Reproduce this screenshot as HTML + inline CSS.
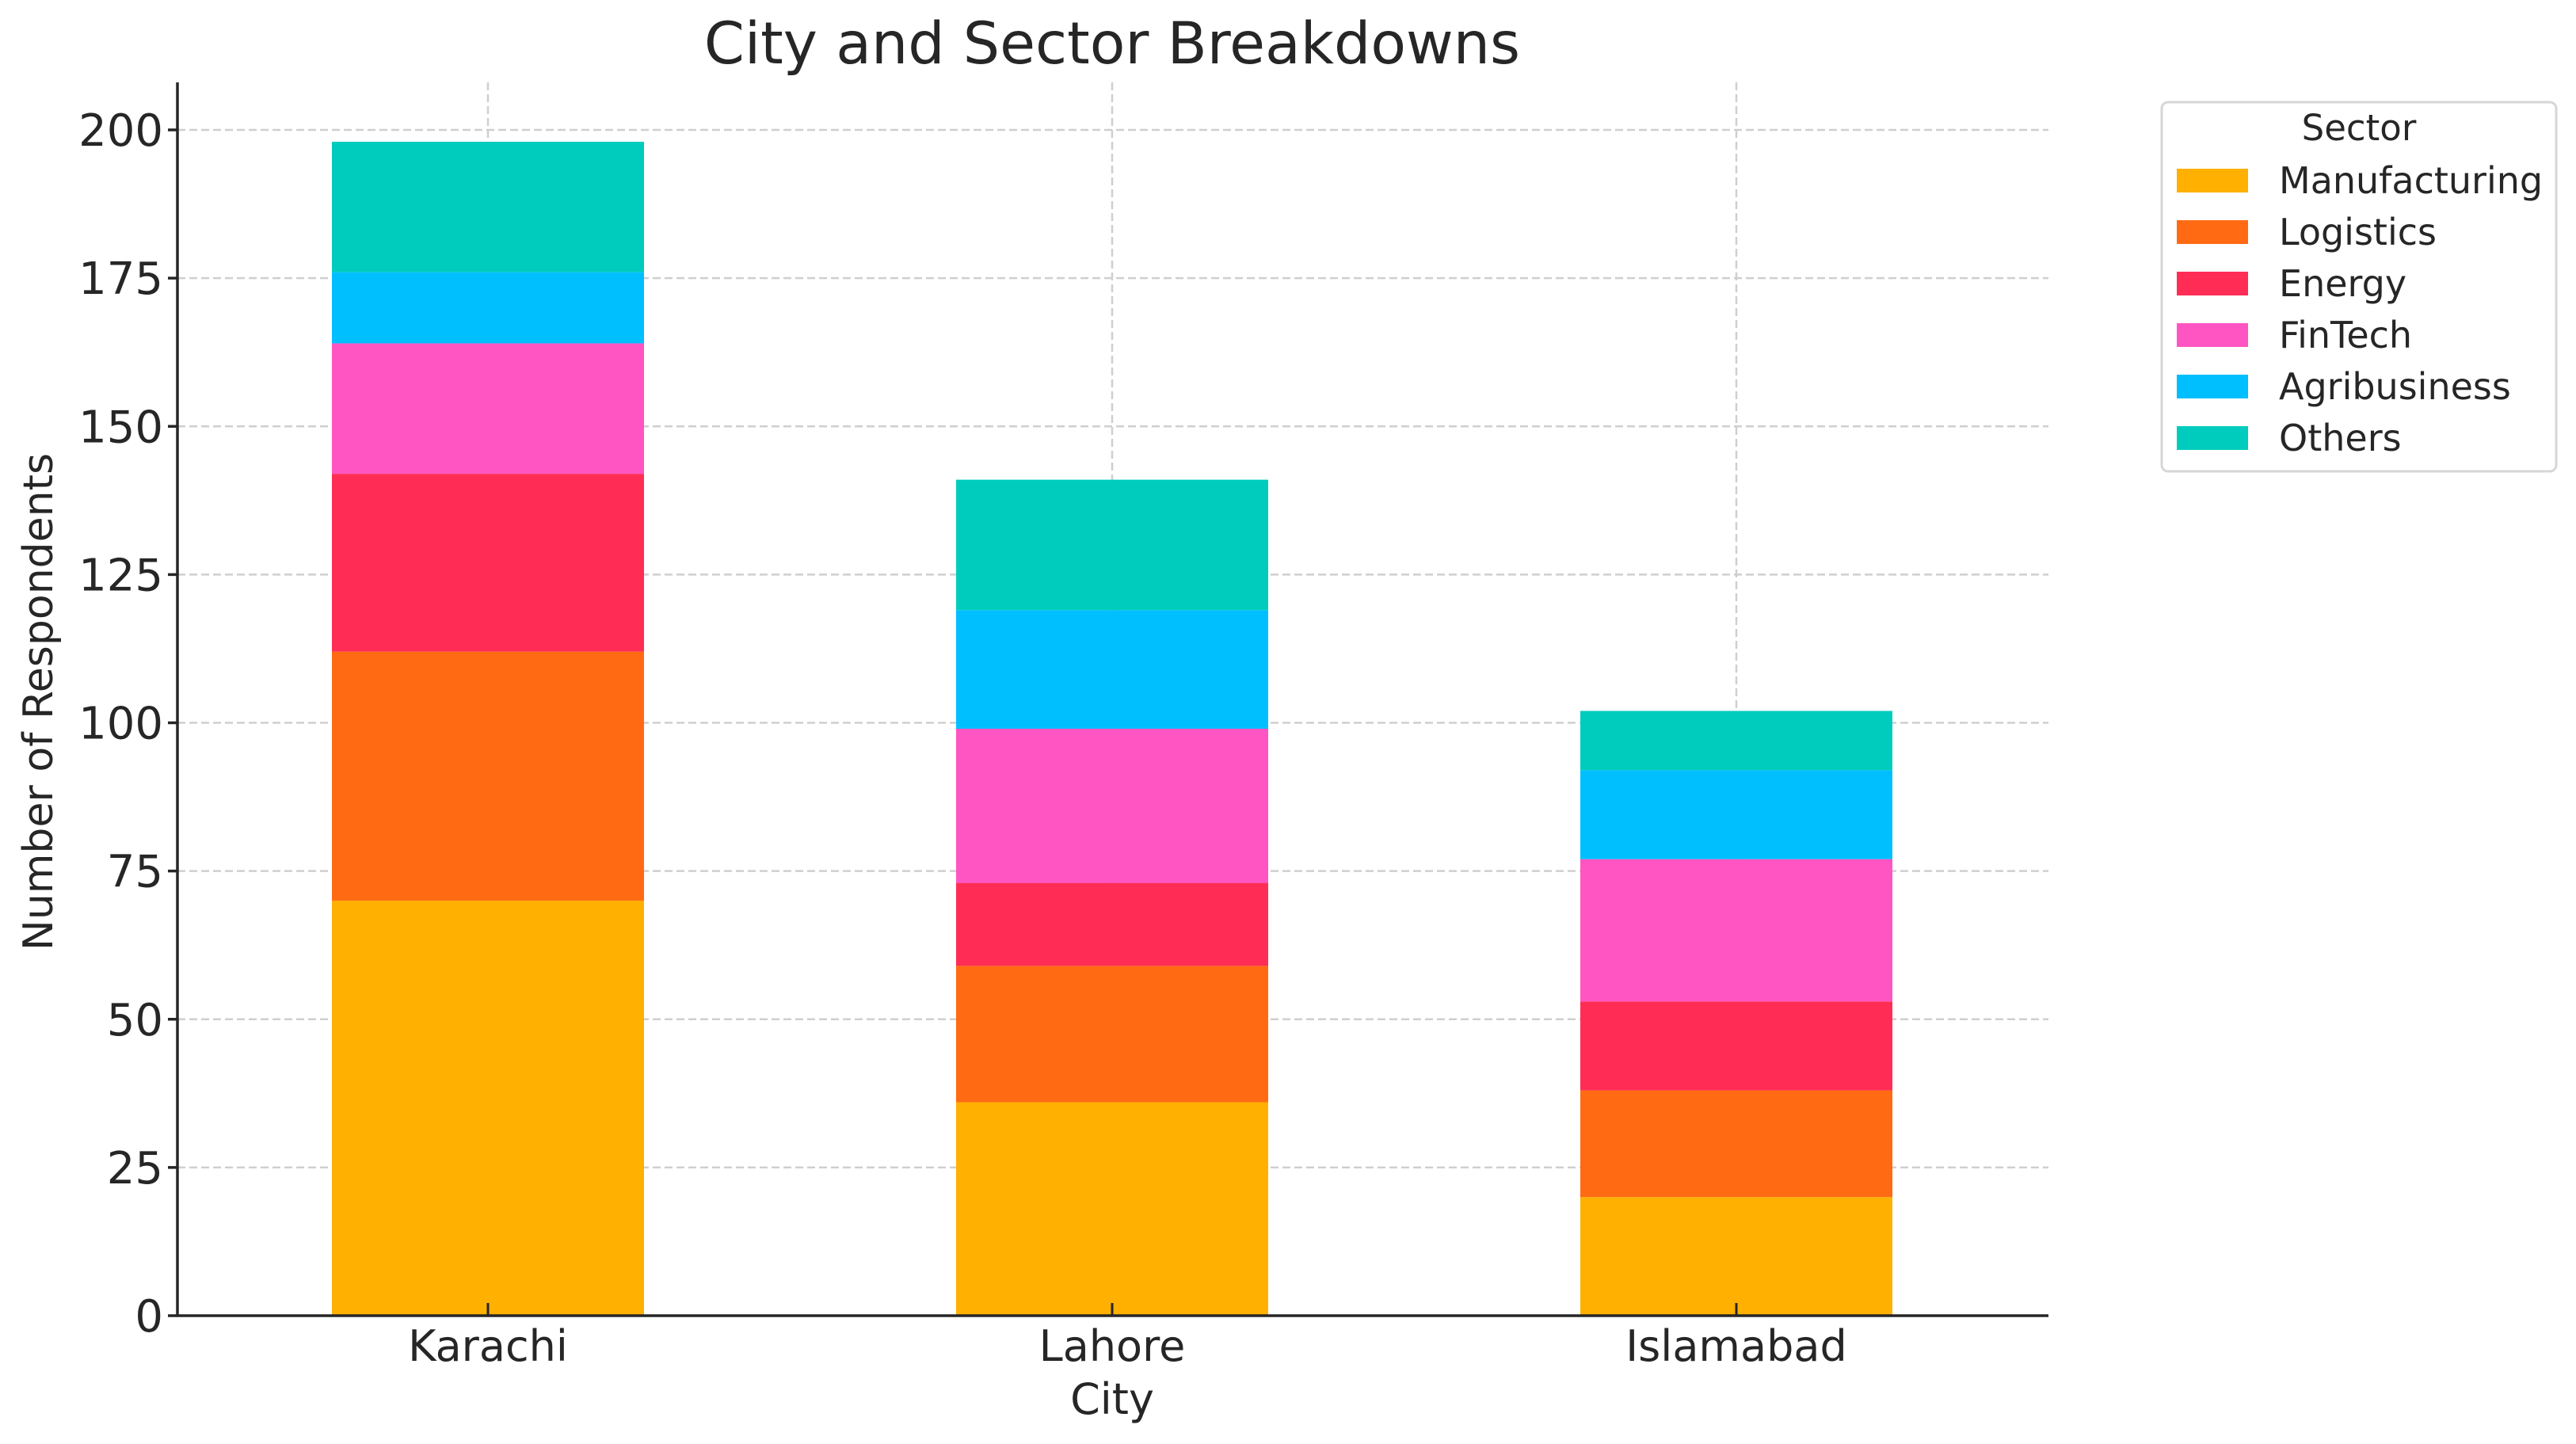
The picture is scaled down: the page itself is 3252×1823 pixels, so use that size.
<!DOCTYPE html>
<html><head><meta charset="utf-8"><style>
html,body{margin:0;padding:0;background:#fff;}
svg{display:block;font-family:"DejaVu Sans","Liberation Sans",sans-serif;}
</style></head><body>
<svg id="chart" width="3252" height="1823" viewBox="0 0 3252 1823">
<text x="1404" y="80" text-anchor="middle" font-size="73" fill="#262626">City and Sector Breakdowns</text>
<g id="grid"></g>
<g id="bars"></g>
<g id="axes"></g>
<text x="1404" y="1785" text-anchor="middle" font-size="54" fill="#262626">City</text>
<text transform="translate(66,886) rotate(-90)" text-anchor="middle" font-size="52" fill="#262626">Number of Respondents</text>
<g id="legend"></g>
</svg>
<script>
const cities = ["Karachi","Lahore","Islamabad"];
const sectors = ["Manufacturing","Logistics","Energy","FinTech","Agribusiness","Others"];
const colors = ["#FFB000","#FF6A13","#FF2D55","#FF55C3","#00BFFF","#00CCBE"];
const manufacturing = [70,36,20];
const logistics = [42,23,18];
const energy = [30,14,15];
const fintech = [22,26,24];
const agribusiness = [12,20,15];
const others = [22,22,10];
const yTicks = [0,25,50,75,100,125,150,175,200];

const series = [manufacturing,logistics,energy,fintech,agribusiness,others];
const NS = "http://www.w3.org/2000/svg";
const L = 224, R = 2586, B = 1661, T = 104;
const y0 = 1661, y200 = 164;
function yScale(v){ return y0 - (y0 - y200) * v / 200; }
const firstX = 616, stepX = 788, barW = 394;
function xScale(i){ return firstX + stepX * i; }
function mk(tag, attrs, parent){
  const e = document.createElementNS(NS, tag);
  for (const k in attrs) e.setAttribute(k, attrs[k]);
  parent.appendChild(e);
  return e;
}
const grid = document.getElementById('grid');
const bars = document.getElementById('bars');
const axes = document.getElementById('axes');
const legend = document.getElementById('legend');

yTicks.forEach(t => {
  const y = yScale(t);
  const g = mk('line', {x1:L, x2:R, y1:y, y2:y, stroke:'#cfcfcf', 'stroke-width':2.5, 'stroke-dasharray':'10,5'}, grid);
  
  
  const tk = mk('line', {x1:L-12, x2:L, y1:y, y2:y, stroke:'#262626', 'stroke-width':3.5}, axes);
  
  
  const lb = mk('text', {x:L-18, y:y+20, 'text-anchor':'end', 'font-size':56, fill:'#262626'}, axes);
  lb.textContent = t;
  
  
});
cities.forEach((c, i) => {
  const x = xScale(i);
  const g = mk('line', {x1:x, x2:x, y1:T, y2:B, stroke:'#cfcfcf', 'stroke-width':2.5, 'stroke-dasharray':'10,5'}, grid);
  
  
  let base = 0;
  series.forEach((s, k) => {
    const v = s[i];
    const r = mk('rect', {x:x-barW/2, y:yScale(base+v), width:barW, height:yScale(base)-yScale(base+v), fill:colors[k]}, bars);
    
    
    base += v;
  });
  const tk = mk('line', {x1:x, x2:x, y1:B-16, y2:B, stroke:'#262626', 'stroke-width':3}, axes);
  
  
  const lb = mk('text', {x:x, y:1718, 'text-anchor':'middle', 'font-size':54, fill:'#262626'}, axes);
  lb.textContent = c;
  
  
});
const sp1 = mk('line', {x1:L, x2:L, y1:T, y2:B+1, stroke:'#262626', 'stroke-width':3.5}, axes);


const sp2 = mk('line', {x1:L-1, x2:R, y1:B, y2:B, stroke:'#262626', 'stroke-width':3.5}, axes);



const box = mk('rect', {x:2729, y:129, width:498, height:466, rx:8, fill:'#fff', stroke:'#d6d6d6', 'stroke-width':3}, legend);


const lt = mk('text', {x:2978, y:177, 'text-anchor':'middle', 'font-size':45, fill:'#262626'}, legend);
lt.textContent = 'Sector';


sectors.forEach((s, k) => {
  const cy = 228 + k * 65;
  const sw = mk('rect', {x:2748, y:cy-15, width:90, height:30, fill:colors[k]}, legend);
  
  
  const tx = mk('text', {x:2877, y:cy+16, 'font-size':46, fill:'#262626'}, legend);
  tx.textContent = s;
  
  
});
</script>
</body></html>
